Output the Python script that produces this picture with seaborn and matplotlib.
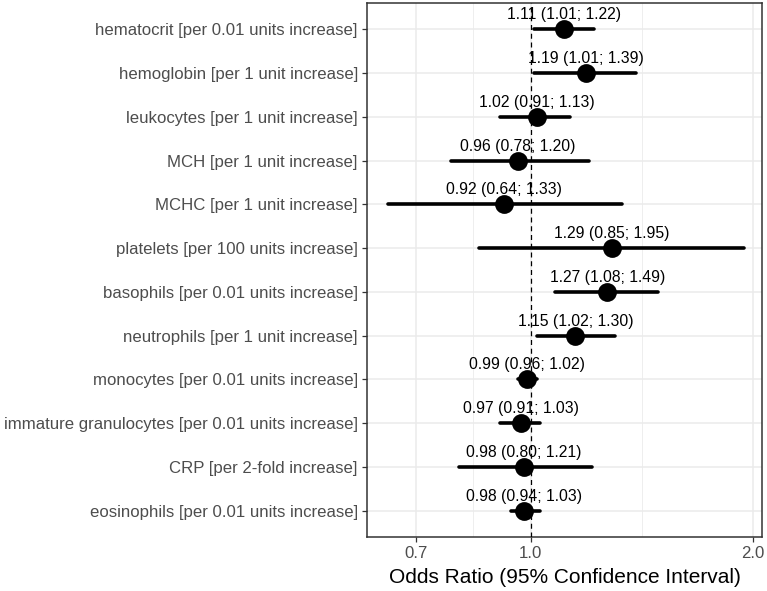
import numpy as np
import pandas as pd
import seaborn as sns
import matplotlib.pyplot as plt
from matplotlib.ticker import FixedLocator, NullFormatter

labels = [
    "hematocrit [per 0.01 units increase]",
    "hemoglobin [per 1 unit increase]",
    "leukocytes [per 1 unit increase]",
    "MCH [per 1 unit increase]",
    "MCHC [per 1 unit increase]",
    "platelets [per 100 units increase]",
    "basophils [per 0.01 units increase]",
    "neutrophils [per 1 unit increase]",
    "monocytes [per 0.01 units increase]",
    "immature granulocytes [per 0.01 units increase]",
    "CRP [per 2-fold increase]",
    "eosinophils [per 0.01 units increase]",
]
odds = [1.11, 1.19, 1.02, 0.96, 0.92, 1.29, 1.27, 1.15, 0.99, 0.97, 0.98, 0.98]
lower = [1.01, 1.01, 0.91, 0.78, 0.64, 0.85, 1.08, 1.02, 0.96, 0.91, 0.80, 0.94]
upper = [1.22, 1.39, 1.13, 1.20, 1.33, 1.95, 1.49, 1.30, 1.02, 1.03, 1.21, 1.03]
xticks = [0.7, 1.0, 2.0]

# long table: estimate + both CI bounds for each row
df = pd.DataFrame({
    "label": labels * 3,
    "value": odds + lower + upper,
})

sns.set_theme(style="whitegrid")
plt.rcParams["font.family"] = ["Liberation Sans", "DejaVu Sans"]

fig = plt.figure(figsize=(7.67, 5.91), dpi=100)
ax = fig.add_axes([0.4785, 0.0914, 0.515, 0.9036])
ax.set_xscale("log")

sns.pointplot(
    data=df, x="value", y="label", order=labels,
    estimator="median", errorbar=lambda v: (v.min(), v.max()),
    color="black", linestyle="none", marker="o", markersize=11.5,
    err_kws={"linewidth": 2.6}, ax=ax, zorder=3,
)

ax.axvline(1.0, color="black", linestyle=(0, (4, 3)), linewidth=0.9, zorder=4)

for i, (o, l, u) in enumerate(zip(odds, lower, upper)):
    ax.text(o, i - 0.33, f"{o:.2f} ({l:.2f}; {u:.2f})", ha="center", va="center",
            fontsize=11.3, color="black", zorder=5)

ax.set_xlim(0.60, 2.06)
ax.set_ylim(len(labels) - 0.4, -0.6)
ax.xaxis.set_major_locator(FixedLocator(xticks))
ax.set_xticklabels([f"{t:.1f}" for t in xticks])
ax.xaxis.set_minor_locator(FixedLocator([np.sqrt(0.7), np.sqrt(2.0)]))
ax.xaxis.set_minor_formatter(NullFormatter())

ax.grid(True, which="major", color="#EBEBEB", linewidth=1.1)
ax.grid(True, which="minor", axis="x", color="#EBEBEB", linewidth=0.6)
ax.set_axisbelow(True)
for s in ax.spines.values():
    s.set_color("#333333")
    s.set_linewidth(1.1)

ax.tick_params(axis="both", which="major", length=3.5, width=0.9, color="#333333",
               labelcolor="#4D4D4D", labelsize=12.1, left=True, bottom=True, pad=3)
ax.tick_params(axis="x", which="minor", length=0)
ax.set_ylabel("")
ax.set_xlabel("Odds Ratio (95% Confidence Interval)", fontsize=15, color="black", labelpad=5)

fig.savefig("out.png", dpi=100)
